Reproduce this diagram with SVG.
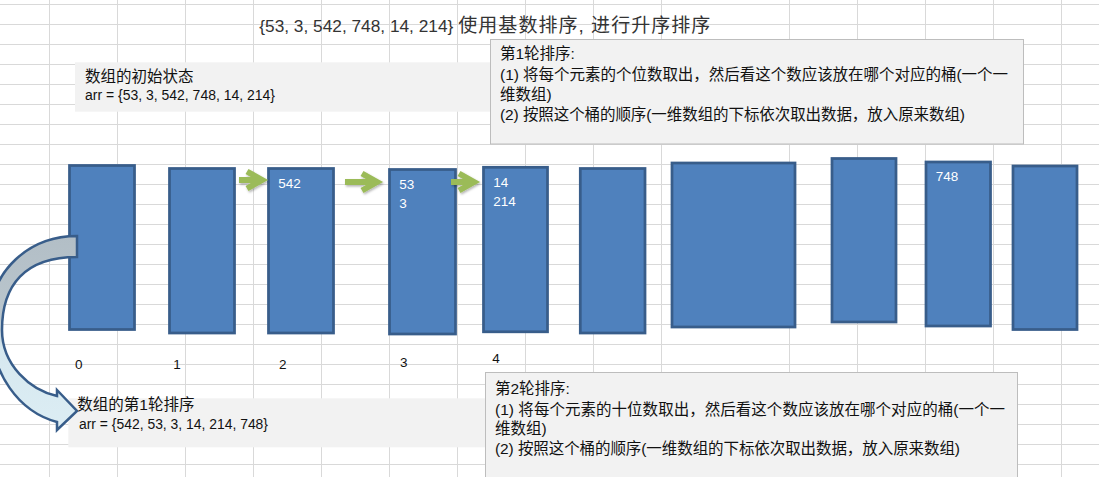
<svg xmlns="http://www.w3.org/2000/svg" width="1099" height="477" viewBox="0 0 1099 477">
<defs>
<style>
.grid line{stroke:#d9d9d9;stroke-width:1}
.bucket{fill:#4f81bd;stroke:#385d8a;stroke-width:2.75}
.lbl{fill:#f2f2f2}
.panel{fill:#f2f2f2;stroke:#bdbdbd;stroke-width:1}
.t{font-family:'Liberation Sans','Noto Sans CJK SC',sans-serif;fill:#111}
.cjk{font-family:'Noto Sans CJK SC','Liberation Sans',sans-serif;fill:#111}
.ttl{fill:#333}
.w{font-family:'Liberation Sans',sans-serif;fill:#fff;font-size:13.5px}
.idx{font-family:'Liberation Sans',sans-serif;fill:#111;font-size:13.5px}
.garrow{stroke:#9bbb59;stroke-width:6;fill:none;stroke-linejoin:miter}
</style>
<linearGradient id="curveFill" gradientUnits="userSpaceOnUse" x1="0" y1="236" x2="0" y2="430">
<stop offset="0" stop-color="#b2bec6"/>
<stop offset="0.42" stop-color="#bac6cd"/>
<stop offset="0.58" stop-color="#d6e8ef"/>
<stop offset="1" stop-color="#dcedf4"/>
</linearGradient>
<filter id="sh" x="-20%" y="-40%" width="150%" height="190%">
<feDropShadow dx="1" dy="1.5" stdDeviation="1" flood-color="#000" flood-opacity="0.3"/>
</filter>
</defs>
<rect x="0" y="0" width="1099" height="477" fill="#fff"/>
<g class="grid">
<line x1="0" y1="4.5" x2="1099" y2="4.5"/><line x1="0" y1="24.5" x2="1099" y2="24.5"/><line x1="0" y1="44.5" x2="1099" y2="44.5"/><line x1="0" y1="64.5" x2="1099" y2="64.5"/><line x1="0" y1="84.5" x2="1099" y2="84.5"/><line x1="0" y1="104.5" x2="1099" y2="104.5"/><line x1="0" y1="124.5" x2="1099" y2="124.5"/><line x1="0" y1="144.5" x2="1099" y2="144.5"/><line x1="0" y1="164.5" x2="1099" y2="164.5"/><line x1="0" y1="184.5" x2="1099" y2="184.5"/><line x1="0" y1="204.5" x2="1099" y2="204.5"/><line x1="0" y1="224.5" x2="1099" y2="224.5"/><line x1="0" y1="244.5" x2="1099" y2="244.5"/><line x1="0" y1="264.5" x2="1099" y2="264.5"/><line x1="0" y1="284.5" x2="1099" y2="284.5"/><line x1="0" y1="304.5" x2="1099" y2="304.5"/><line x1="0" y1="324.5" x2="1099" y2="324.5"/><line x1="0" y1="344.5" x2="1099" y2="344.5"/><line x1="0" y1="364.5" x2="1099" y2="364.5"/><line x1="0" y1="384.5" x2="1099" y2="384.5"/><line x1="0" y1="404.5" x2="1099" y2="404.5"/><line x1="0" y1="424.5" x2="1099" y2="424.5"/><line x1="0" y1="444.5" x2="1099" y2="444.5"/><line x1="0" y1="464.5" x2="1099" y2="464.5"/>
<line x1="49.5" y1="0" x2="49.5" y2="477"/><line x1="117.5" y1="0" x2="117.5" y2="477"/><line x1="185.5" y1="0" x2="185.5" y2="477"/><line x1="253.5" y1="0" x2="253.5" y2="477"/><line x1="321.5" y1="0" x2="321.5" y2="477"/><line x1="389.5" y1="0" x2="389.5" y2="477"/><line x1="457.5" y1="0" x2="457.5" y2="477"/><line x1="525.5" y1="0" x2="525.5" y2="477"/><line x1="593.5" y1="0" x2="593.5" y2="477"/><line x1="661.5" y1="0" x2="661.5" y2="477"/><line x1="789.5" y1="0" x2="789.5" y2="477"/><line x1="857.5" y1="0" x2="857.5" y2="477"/><line x1="925.5" y1="0" x2="925.5" y2="477"/><line x1="993.5" y1="0" x2="993.5" y2="477"/><line x1="1061.5" y1="0" x2="1061.5" y2="477"/>
</g>
<g id="title">
<text class="t ttl" x="259.3" y="32" font-size="17.3" textLength="194" lengthAdjust="spacingAndGlyphs">{53, 3, 542, 748, 14, 214}</text>
<text class="t ttl" x="458.3" y="32" font-size="19" textLength="252" lengthAdjust="spacing">使用基数排序, 进行升序排序</text>
</g>
<g id="initial-state">
<rect class="lbl" x="75" y="62.3" width="420" height="49.4"/>
<text class="cjk" x="85" y="82" font-size="15.5">数组的初始状态</text>
<text class="t" x="85" y="100" font-size="14" textLength="190" lengthAdjust="spacingAndGlyphs">arr = {53, 3, 542, 748, 14, 214}</text>
</g>
<g id="round1-result">
<rect class="lbl" x="68.3" y="398.3" width="420" height="49"/>
<text class="t" x="77.3" y="410" font-size="15.5">数组的第1轮排序</text>
<text class="t" x="79" y="429" font-size="14" textLength="189" lengthAdjust="spacingAndGlyphs">arr = {542, 53, 3, 14, 214, 748}</text>
</g>
<g id="bucket-0"><rect class="bucket" x="69.5" y="165.5" width="65" height="164"/></g>
<g id="bucket-1"><rect class="bucket" x="169.5" y="168.5" width="65" height="164.5"/></g>
<g id="bucket-2"><rect class="bucket" x="268.5" y="168.5" width="65" height="164.5"/><text class="w" x="278.3" y="187.5">542</text></g>
<g id="bucket-3"><rect class="bucket" x="389.5" y="169.5" width="66" height="164.5"/><text class="w" x="399.3" y="188.5">53</text><text class="w" x="399.3" y="207.5">3</text></g>
<g id="bucket-4"><rect class="bucket" x="483.5" y="167.3" width="64" height="164.5"/><text class="w" x="493.3" y="186.5">14</text><text class="w" x="493.3" y="205.5">214</text></g>
<g id="bucket-5"><rect class="bucket" x="580.3" y="168.5" width="64.7" height="164.5"/></g>
<g id="bucket-6"><rect class="bucket" x="672" y="163" width="123" height="164"/></g>
<g id="bucket-7"><rect class="bucket" x="832" y="158.5" width="64" height="163.5"/></g>
<g id="bucket-8"><rect class="bucket" x="926" y="162" width="64.5" height="164"/><text class="w" x="935.7" y="181" font-size="14">748</text></g>
<g id="bucket-9"><rect class="bucket" x="1013" y="166" width="64" height="163.5"/></g>
<g id="connectors">
<g filter="url(#sh)">
<path class="garrow" d="M239,180 H261 M247,171.5 L262,180 L247,188.5"/>
<path class="garrow" d="M345,182 H376 M362,173.5 L377,182 L362,190.5"/>
<path class="garrow" d="M451,182 H473 M459,173.5 L474,182 L459,190.5"/>
</g>
<path d="M77,236 C30,236 -10,270 -10,320 C-10,375 20,412 57,422 L57,430 L77,411 L57,390 L57,396 C30,390 2,365 2,330 C2,285 25,257 77,257 Z" fill="url(#curveFill)" stroke="#385d8a" stroke-width="2.5" stroke-linejoin="miter"/>
</g>
<g id="round1-panel">
<rect class="panel" x="490.5" y="39.5" width="533" height="104.5"/>
<text class="t" x="500" y="59" font-size="15.5">第1轮排序:</text>
<text class="t" x="500" y="80" font-size="15.5" textLength="508" lengthAdjust="spacing">(1) 将每个元素的个位数取出，然后看这个数应该放在哪个对应的桶(一个一</text>
<text class="t" x="500" y="100" font-size="15.5">维数组)</text>
<text class="t" x="500" y="120" font-size="15.5" textLength="465" lengthAdjust="spacing">(2) 按照这个桶的顺序(一维数组的下标依次取出数据，放入原来数组)</text>
</g>
<g id="round2-panel">
<rect class="panel" x="485.5" y="372.5" width="532" height="120"/>
<text class="t" x="495" y="394" font-size="15.5">第2轮排序:</text>
<text class="t" x="495" y="415" font-size="15.5" textLength="510" lengthAdjust="spacing">(1) 将每个元素的十位数取出，然后看这个数应该放在哪个对应的桶(一个一</text>
<text class="t" x="495" y="434" font-size="15.5">维数组)</text>
<text class="t" x="495" y="454" font-size="15.5" textLength="465" lengthAdjust="spacing">(2) 按照这个桶的顺序(一维数组的下标依次取出数据，放入原来数组)</text>
</g>
<g id="indices">
<text class="idx" x="75" y="369">0</text>
<text class="idx" x="173.3" y="369">1</text>
<text class="idx" x="279" y="368.5">2</text>
<text class="idx" x="400" y="366.5">3</text>
<text class="idx" x="492.3" y="363">4</text>
</g>
</svg>
